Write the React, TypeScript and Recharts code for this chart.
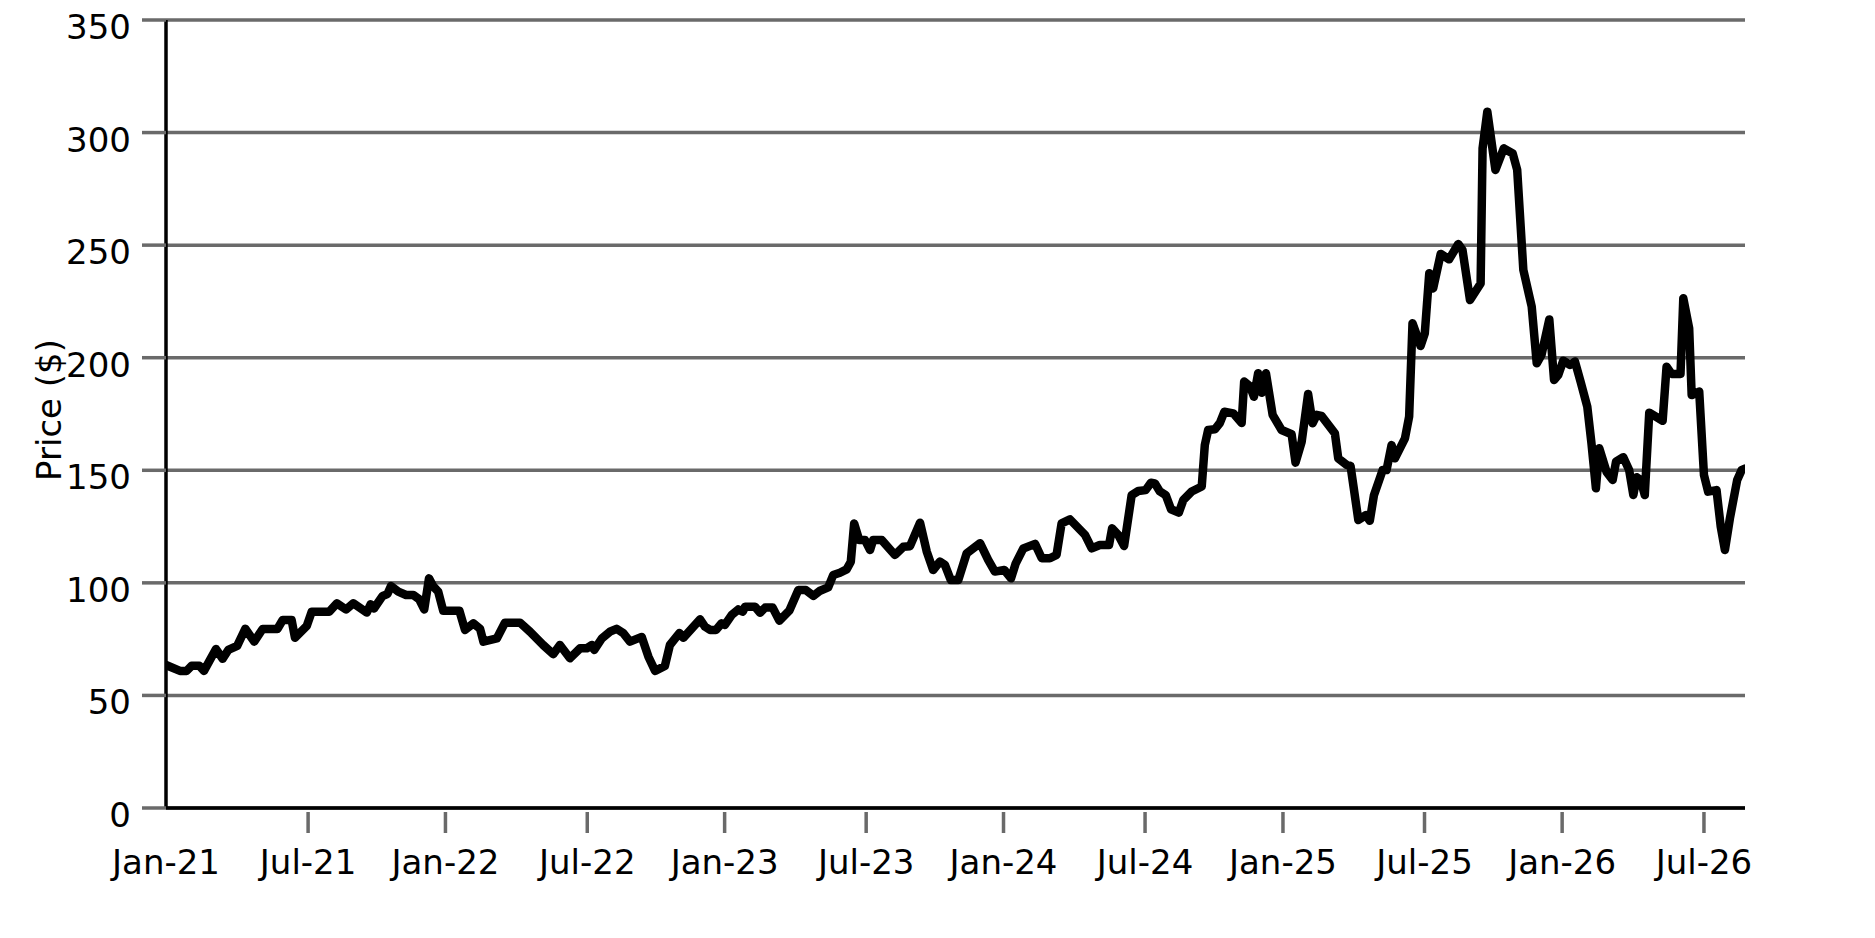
import React from 'react';
import { LineChart, Line, XAxis, YAxis, CartesianGrid, Label } from 'recharts';

const times = [
  2020.987, 2021.037, 2021.061, 2021.079, 2021.106, 2021.123, 2021.166, 2021.190, 2021.210, 2021.242,
  2021.271, 2021.303, 2021.333, 2021.386, 2021.405, 2021.437, 2021.449, 2021.491, 2021.509, 2021.572,
  2021.599, 2021.632, 2021.658, 2021.706, 2021.720, 2021.732, 2021.763, 2021.780, 2021.793, 2021.819,
  2021.847, 2021.873, 2021.894, 2021.912, 2021.929, 2021.944, 2021.962, 2021.980, 2022.038, 2022.058,
  2022.088, 2022.112, 2022.124, 2022.172, 2022.201, 2022.255, 2022.291, 2022.338, 2022.374, 2022.398,
  2022.434, 2022.470, 2022.494, 2022.512, 2022.521, 2022.548, 2022.577, 2022.601, 2022.625, 2022.649,
  2022.691, 2022.715, 2022.739, 2022.774, 2022.792, 2022.826, 2022.840, 2022.900, 2022.918, 2022.936,
  2022.957, 2022.977, 2022.989, 2023.013, 2023.037, 2023.053, 2023.061, 2023.097, 2023.115, 2023.133,
  2023.160, 2023.184, 2023.220, 2023.252, 2023.279, 2023.306, 2023.330, 2023.359, 2023.377, 2023.401,
  2023.425, 2023.440, 2023.452, 2023.470, 2023.491, 2023.509, 2023.520, 2023.551, 2023.598, 2023.628,
  2023.652, 2023.688, 2023.712, 2023.735, 2023.759, 2023.777, 2023.798, 2023.825, 2023.855, 2023.903,
  2023.932, 2023.956, 2023.990, 2024.014, 2024.030, 2024.058, 2024.100, 2024.124, 2024.153, 2024.177,
  2024.195, 2024.225, 2024.279, 2024.303, 2024.332, 2024.365, 2024.376, 2024.398, 2024.419, 2024.446,
  2024.470, 2024.496, 2024.515, 2024.529, 2024.547, 2024.568, 2024.587, 2024.615, 2024.631, 2024.661,
  2024.697, 2024.708, 2024.720, 2024.744, 2024.762, 2024.778, 2024.810, 2024.840, 2024.849, 2024.870,
  2024.884, 2024.899, 2024.912, 2024.927, 2024.951, 2024.983, 2025.019, 2025.033, 2025.055, 2025.078,
  2025.094, 2025.109, 2025.126, 2025.174, 2025.186, 2025.216, 2025.230, 2025.258, 2025.285, 2025.299,
  2025.314, 2025.345, 2025.359, 2025.377, 2025.389, 2025.425, 2025.440, 2025.452, 2025.481, 2025.496,
  2025.512, 2025.526, 2025.553, 2025.583, 2025.616, 2025.631, 2025.658, 2025.696, 2025.703, 2025.720,
  2025.749, 2025.779, 2025.811, 2025.827, 2025.849, 2025.879, 2025.897, 2025.914, 2025.942, 2025.959,
  2025.974, 2025.992, 2026.016, 2026.034, 2026.054, 2026.078, 2026.093, 2026.109, 2026.121, 2026.147,
  2026.169, 2026.181, 2026.207, 2026.228, 2026.243, 2026.255, 2026.269, 2026.284, 2026.300, 2026.348,
  2026.362, 2026.380, 2026.412, 2026.422, 2026.443, 2026.452, 2026.479, 2026.496, 2026.511, 2026.541,
  2026.556, 2026.571, 2026.589, 2026.615, 2026.631, 2026.643,
];

const prices = [
  63.5, 60.9, 60.9, 63.2, 63.2, 60.9, 70.6, 66.3, 70.2, 72,
  79.6, 73.9, 79.5, 79.5, 83.5, 83.5, 75.6, 80.8, 87.2, 87.2,
  90.9, 88.2, 90.9, 86.8, 90.5, 88.6, 94.2, 95, 98.6, 96.1,
  94.6, 94.6, 92.7, 88.2, 102, 98.5, 96.1, 87.6, 87.6, 79.1,
  82, 79.6, 73.9, 75.3, 82.3, 82.3, 78.3, 72.4, 68.3, 72.4,
  66.5, 70.9, 70.9, 72.4, 70.2, 75.3, 78.3, 79.6, 77.7, 73.9,
  76, 67.2, 60.9, 63.1, 72.4, 77.7, 75.6, 83.8, 80.5, 79.1,
  79.1, 82, 81.3, 85.7, 88.2, 87.2, 89.4, 89.4, 86.7, 89,
  89, 83.2, 87.7, 96.8, 96.8, 94.2, 96.5, 98, 103.5, 104.5,
  106, 109.4, 126.4, 119, 119, 114.6, 119, 119, 112.4, 116,
  116.3, 126.7, 113.9, 105.7, 109.4, 108, 101.3, 101.3, 113.1, 117.6,
  110.2, 105, 105.7, 102, 108.4, 115.3, 117.3, 110.9, 110.9, 112.4,
  126.4, 128.2, 121.3, 115.3, 116.8, 116.8, 124.2, 121.3, 116.4, 139,
  140.8, 141.2, 144.5, 144.2, 140.6, 139, 132.7, 131.2, 136.8, 140.6,
  142.8, 161.2, 167.9, 168.2, 171, 176, 175.3, 171, 189.4, 187.3,
  182.7, 193.1, 184.4, 193.1, 174.6, 167.9, 166, 153.4, 162.7, 183.9,
  170.9, 174.6, 174.2, 166.4, 155.3, 152.4, 152, 127.9, 130.1, 127.6,
  139, 150.1, 150.1, 161.2, 155.3, 164.2, 173.9, 215.3, 205.2, 210.8,
  237.5, 230.8, 246.1, 243.7, 250.5, 247.9, 225.6, 233, 293, 309.3,
  283.4, 293, 290.7, 283.4, 239, 222.7, 197.5, 201.2, 217, 190.1,
  192.3, 198.7, 196.8, 198.3, 189.4, 178.3, 162, 142, 159.8, 149.3,
  145.7, 153.8, 155.8, 150.1, 139, 146.9, 145.7, 139, 175.6, 172,
  196, 192.8, 192.8, 226.4, 213.1, 183.4, 185, 147.9, 140.5, 141.2,
  125, 114.6, 128.7, 145.7, 150.1, 150.8,
];

const xTickValues = [
  2020.987, 2021.496, 2021.988, 2022.496, 2022.988, 2023.495,
  2023.987, 2024.494, 2024.988, 2025.495, 2025.988, 2026.496,
];
const xTickLabels = [
  'Jan-21', 'Jul-21', 'Jan-22', 'Jul-22', 'Jan-23', 'Jul-23',
  'Jan-24', 'Jul-24', 'Jan-25', 'Jul-25', 'Jan-26', 'Jul-26',
];
const yTickValues = [0, 50, 100, 150, 200, 250, 300, 350];
const yAxisTitle = 'Price ($)';

const data = times.map((t, i) => ({ t, price: prices[i] }));

const FONT = "'DejaVu Sans', 'Liberation Sans', sans-serif";
const GRID = '#6a6a6a';
const FONT_SIZE = 34;

function XTick(props: any) {
  const { x, y, payload } = props;
  const idx = xTickValues.indexOf(payload.value);
  const label = idx >= 0 ? xTickLabels[idx] : '';
  return (
    <g>
      {idx > 0 && (
        <line x1={x} x2={x} y1={y - 21} y2={y} stroke={GRID} strokeWidth={3.5} />
      )}
      <text
        x={x}
        y={y + 41}
        textAnchor="middle"
        fontSize={FONT_SIZE}
        fontFamily={FONT}
        fill="#000"
      >
        {label}
      </text>
    </g>
  );
}

function YTick(props: any) {
  const { x, y, payload } = props;
  return (
    <text
      x={x}
      y={y + 19}
      textAnchor="end"
      fontSize={FONT_SIZE}
      fontFamily={FONT}
      fill="#000"
    >
      {payload.value}
    </text>
  );
}

function YTitle(props: any) {
  const vb = props.viewBox || { x: 0, y: 20, width: 166, height: 788 };
  const cx = vb.x + 49;
  const cy = vb.y + vb.height / 2 - 4;
  return (
    <text
      x={cx}
      y={cy}
      transform={`rotate(-90 ${cx} ${cy})`}
      textAnchor="middle"
      dominantBaseline="central"
      fontSize={FONT_SIZE}
      fontFamily={FONT}
      fill="#000"
    >
      {yAxisTitle}
    </text>
  );
}

export default function App() {
  return (
    <div style={{ position: 'absolute', left: 0, top: 0, background: '#fff' }}>
      <LineChart
        width={1800}
        height={900}
        data={data}
        margin={{ top: 20, right: 55, left: 0, bottom: 0 }}
      >
        <CartesianGrid horizontal vertical={false} stroke={GRID} strokeWidth={3.5} />
        <XAxis
          dataKey="t"
          type="number"
          domain={[times[0], times[times.length - 1]]}
          ticks={xTickValues}
          interval={0}
          allowDataOverflow
          height={92}
          tickSize={25}
          tickMargin={0}
          tickLine={false}
          axisLine={{ stroke: '#000', strokeWidth: 3.5 }}
          tick={(p: any) => <XTick {...p} />}
        />
        <YAxis
          type="number"
          domain={[0, 350]}
          ticks={yTickValues}
          interval={0}
          width={166}
          tickSize={24}
          tickMargin={11}
          tickLine={{ stroke: GRID, strokeWidth: 3.5 }}
          axisLine={{ stroke: '#000', strokeWidth: 3.5 }}
          tick={(p: any) => <YTick {...p} />}
        >
          <Label content={(p: any) => <YTitle {...p} />} />
        </YAxis>
        <Line
          type="linear"
          dataKey="price"
          stroke="#000"
          strokeWidth={8.5}
          strokeLinejoin="round"
          strokeLinecap="round"
          dot={false}
          activeDot={false}
          isAnimationActive={false}
        />
      </LineChart>
    </div>
  );
}
